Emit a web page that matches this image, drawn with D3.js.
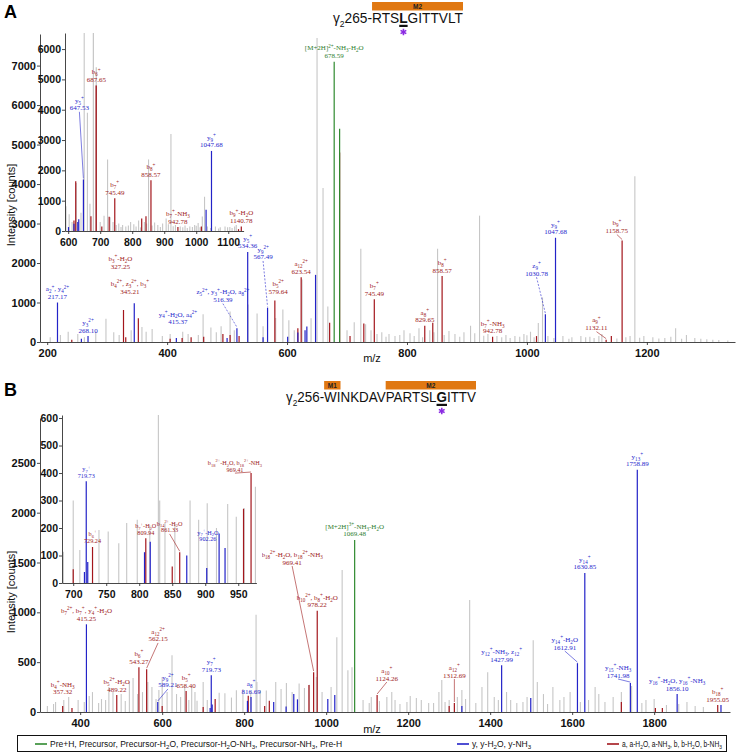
<!DOCTYPE html>
<html><head><meta charset="utf-8">
<script src="https://cdn.jsdelivr.net/npm/d3@7"></script>
<style>body{margin:0;background:#fff}</style>
</head><body><svg id="c" width="736" height="753"></svg>
<script>
// ================= DATA =================
// Panel A spectrum [m/z, intensity]
const grayA = [[205,120],[222,180],[235,260],[251,200],[262,120],[281,260],[298,590],[311,250],[320,180],[340,300],[358,380],[365,260],[375,330],[392,150],[405,200],[426,260],[435,200],[452,180],[460,700],[473,370],[482,250],[490,400],[505,770],[512,300],[535,950],[550,720],[560,400],[581,610],[593,820],[603,550],[612,300],[625,1580],[640,600],[650,7700],[660,3900],[668,900],[700,300],[712,500],[723,2360],[731,450],[740,300],[750,200],[758,250],[765,130],[770,200],[780,150],[788,180],[795,300],[805,220],[812,150],[820,350],[826,120],[838,300],[845,250],[851,2360],[862,180],[870,280],[880,200],[888,130],[895,250],[906,410],[913,220],[921,3200],[928,160],[935,200],[950,150],[958,120],[965,180],[972,100],[980,150],[988,130],[995,200],[1000,170],[1006,260],[1012,120],[1019,480],[1026,1130],[1035,150],[1045,100],[1060,150],[1070,80],[1075,120],[1090,150],[1098,120],[1105,130],[1112,100],[1120,150],[1125,200],[1150,90],[1165,120],[1172,150],[1180,4200],[1188,110],[1195,150],[1210,120],[1220,90],[1230,100],[1240,130],[1248,350],[1258,80],[1266,180],[1280,100],[1290,80],[1300,70],[1310,60],[1320,50],[1335,40]];
const redA = [[241,60],[327.25,810],[331,120],[352,600],[405,80],[425,100],[440,120],[461,130],[493,200],[505,180],[520,150],[579.64,1050],[618,350],[623.54,1640],[671,490],[687.65,4800],[705,150],[728,470],[745.49,1080],[829.65,410],[843,490],[858.57,1670],[942.78,130],[1016,150],[1132.11,60],[1140.78,150],[1158.75,2570]];
const blueA = [[217.17,1000],[257,80],[268.10,150],[345.21,980],[415.37,100],[500,100],[516.39,350],[534.36,2280],[560,120],[567.49,870],[601,130],[618,240],[630,300],[633,390],[647.53,1700],[1030.78,700],[1047.68,2640]];
const greenA = [[678.59,7100],[687.65,5400]];

const labelsA = [
 {kind:'y', t:['a_{2}^{+}, y_{4}^{2+}','217.17'], mz:217.17, I:1000},
 {kind:'y', t:['y_{3}^{2+}','268.10'], mz:268.10, I:150},
 {kind:'b', t:['b_{3}^{+}-H_{2}O','327.25'], mz:327.25, I:810, lx:322, lI:1860},
 {kind:'b', t:['b_{4}^{2+}, z_{3}^{2+}, b_{3}^{+}','345.21'], mz:345.21, I:980, lx:338, lI:1220},
 {kind:'y', t:['y_{4}^{+}-H_{2}O, a_{4}^{2+}','415.37'], mz:415.37, I:100, lx:418, lI:450},
 {kind:'y', t:['z_{5}^{2+}, y_{3}^{+}-H_{2}O, a_{8}^{2+}','516.39'], mz:516.39, I:350, lx:493, lI:1010, leader:'dash'},
 {kind:'y', t:['y_{5}^{+}','534.36'], mz:534.36, I:2280},
 {kind:'y', t:['y_{9}^{2+}','567.49'], mz:567.49, I:870, lx:560, lI:2090, leader:'dash'},
 {kind:'b', t:['b_{5}^{2+}','579.64'], mz:579.64, I:1050, lx:585, lI:1220},
 {kind:'b', t:['a_{12}^{2+}','623.54'], mz:623.54, I:1640},
 {kind:'p', t:['[M+2H]^{2+}-NH_{3}-H_{2}O','678.59'], mz:678.59, I:7100},
 {kind:'b', t:['b_{7}^{+}','745.49'], mz:745.49, I:1080},
 {kind:'b', t:['a_{8}^{+}','829.65'], mz:829.65, I:410},
 {kind:'b', t:['b_{8}^{+}','858.57'], mz:858.57, I:1670},
 {kind:'b', t:['b_{7}^{+}-NH_{3}','942.78'], mz:942.78, I:130},
 {kind:'y', t:['z_{9}^{+}','1030.78'], mz:1030.78, I:700, lx:1016, lI:1680, leader:'dash'},
 {kind:'y', t:['y_{9}^{+}','1047.68'], mz:1047.68, I:2640},
 {kind:'b', t:['a_{9}^{+}','1132.11'], mz:1132.11, I:60, lx:1116, lI:300, leader:'solid'},
 {kind:'b', t:['b_{9}^{+}','1158.75'], mz:1158.75, I:2570, lx:1150, lI:2760, leader:'solid'}
];
const insetLabelsA = [
 {kind:'y', t:['y_{5}^{+}','647.53'], mz:647.53, I:1700, lx:635, lI:3980, leader:'solid'},
 {kind:'b', t:['b_{6}^{+}','687.65'], mz:687.65, I:4800},
 {kind:'b', t:['b_{7}^{+}','745.49'], mz:745.49, I:1080},
 {kind:'b', t:['b_{8}^{+}','858.57'], mz:858.57, I:1670},
 {kind:'b', t:['b_{7}^{+}-NH_{3}','942.78'], mz:942.78, I:130},
 {kind:'y', t:['y_{9}^{+}','1047.68'], mz:1047.68, I:2640},
 {kind:'b', t:['b_{9}^{+}-H_{2}O','1140.78'], mz:1140.78, I:150}
];

// Panel B spectrum
const grayB = [[320,60],[335,80],[340,100],[360,120],[372,150],[395,120],[410,100],[422,160],[430,200],[445,90],[452,130],[462,120],[470,250],[480,200],[500,180],[510,110],[520,300],[529,340],[540,180],[552,200],[565,300],[575,250],[585,130],[592,220],[600,350],[612,200],[624,570],[635,180],[645,150],[655,260],[665,120],[672,250],[680,200],[685,114],[700,300],[710,120],[739,193],[753,187],[769,145],[781,218],[797,230],[816,210],[829,975],[831,300],[839,218],[854,215],[877,300],[890,230],[903,290],[917,200],[934,287],[947,241],[959,273],[976,350],[990,200],[1012,250],[1026,750],[1039,1425],[1053,420],[1063,450],[1090,120],[1105,90],[1110,150],[1130,110],[1148,150],[1160,200],[1168,120],[1180,80],[1197,100],[1205,160],[1220,140],[1232,120],[1250,90],[1262,90],[1275,200],[1282,320],[1290,100],[1300,120],[1320,150],[1331,220],[1340,130],[1350,1125],[1365,90],[1380,250],[1394,400],[1410,150],[1420,120],[1440,200],[1450,120],[1465,90],[1480,100],[1490,150],[1505,720],[1515,300],[1530,180],[1540,80],[1553,250],[1570,120],[1580,150],[1595,200],[1620,100],[1640,120],[1656,250],[1665,180],[1680,100],[1700,150],[1720,200],[1745,260],[1770,90],[1780,120],[1800,130],[1830,70],[1860,80],[1880,100],[1900,60],[1920,50]];
const redB = [[357.32,60],[380,40],[489.22,170],[543.27,450],[562.15,430],[600,60],[658.40,210],[700,50],[729.24,131],[809.94,163],[850,60],[861.33,112],[958,270],[969.41,400],[978.22,1015],[1124.26,170],[1300,60],[1312.69,90],[1720,100],[1803,40],[1820,40],[1955.05,70]];
const blueB = [[415.25,880],[589.21,100],[717,40],[719.73,370],[722,76],[808,112],[816.69,150],[872,100],[902.26,55],[921,180],[930,127],[1004,130],[1021,170],[1331,60],[1427.99,470],[1499,140],[1612.91,490],[1630.85,1395],[1741.98,290],[1758.89,2430],[1856.10,180],[1963,70]];
const greenB = [[1069.48,1727]];

const labelsB = [
 {kind:'b', t:['b_{4}^{+}-NH_{3}','357.32'], mz:357.32, I:60, lI:176},
 {kind:'b', t:['b_{7}^{2+}, b_{7}^{+}, y_{4}^{+}-H_{2}O','415.25'], mz:415.25, I:880},
 {kind:'b', t:['b_{5}^{2+}-H_{2}O','489.22'], mz:489.22, I:170},
 {kind:'b', t:['b_{6}^{+}','543.27'], mz:543.27, I:450},
 {kind:'b', t:['a_{12}^{2+}','562.15'], mz:562.15, I:430, lx:590, lI:708, leader:'solid'},
 {kind:'y', t:['y_{9}^{2+}','589.21'], mz:589.21, I:100, lx:614, lI:246, leader:'solid'},
 {kind:'b', t:['b_{5}^{+}','658.40'], mz:658.40, I:210},
 {kind:'y', t:['y_{7}^{+}','719.73'], mz:719.73, I:370},
 {kind:'y', t:['a_{8}^{+}','816.69'], mz:816.69, I:150},
 {kind:'b', t:['b_{18}^{2+}-H_{2}O, b_{18}^{2+}-NH_{3}','969.41'], mz:969.41, I:400, lx:917, lI:1480, leader:'solid'},
 {kind:'b', t:['b_{10}^{2+}, b_{8}^{+}-H_{2}O','978.22'], mz:978.22, I:1015},
 {kind:'p', t:['[M+2H]^{3+}-NH_{3}-H_{2}O','1069.48'], mz:1069.48, I:1727},
 {kind:'b', t:['a_{10}^{+}','1124.26'], mz:1124.26, I:170, lx:1148, lI:316, leader:'solid'},
 {kind:'b', t:['a_{12}^{+}','1312.69'], mz:1312.69, I:90, lI:346, leader:'solid'},
 {kind:'y', t:['y_{12}^{+}-NH_{3}, z_{12}^{+}','1427.99'], mz:1427.99, I:470},
 {kind:'y', t:['y_{14}^{+}-H_{2}O','1612.91'], mz:1612.91, I:490, lx:1582, lI:627, leader:'solid'},
 {kind:'y', t:['y_{14}^{+}','1630.85'], mz:1630.85, I:1395},
 {kind:'y', t:['y_{15}^{+}-NH_{3}','1741.98'], mz:1741.98, I:290, lx:1712, lI:346, leader:'solid'},
 {kind:'y', t:['y_{13}^{+}','1758.89'], mz:1758.89, I:2430},
 {kind:'y', t:['y_{16}^{+}-H_{2}O, y_{16}^{+}-NH_{3}','1856.10'], mz:1856.10, I:180},
 {kind:'b', t:['b_{18}^{+}','1955.05'], mz:1955.05, I:70}
];
const insetLabelsB = [
 {kind:'y', t:['y_{7}^{+}','719.73'], mz:719.73, I:370},
 {kind:'b', t:['b_{6}^{+}','729.24'], mz:729.24, I:131, lI:147},
 {kind:'b', t:['b_{7}^{+}-H_{2}O','809.94'], mz:809.94, I:163},
 {kind:'b', t:['b_{14}^{2+}-H_{2}O','861.33'], mz:861.33, I:112, lx:846, lI:184, leader:'solid'},
 {kind:'y', t:['y_{7}^{+}-H_{2}O','902.26'], mz:902.26, I:55, lx:904, lI:151},
 {kind:'b', t:['b_{18}^{2+}-H_{2}O, b_{18}^{2+}-NH_{3}','969.41'], mz:969.41, I:400, lx:945, lI:405, leader:'solid'}
];

// ticks
const xTicksA = [200,400,600,800,1000,1200];
const yTicksA = [0,1000,2000,3000,4000,5000,6000,7000];
const xTicksInsetA = [600,700,800,900,1000,1100];
const yTicksInsetA = [0,1000,2000,3000,4000,5000,6000];
const xTicksB = [400,600,800,1000,1200,1400,1600,1800];
const yTicksB = [0,500,1000,1500,2000,2500];
const xTicksInsetB = [700,750,800,850,900,950];
const yTicksInsetB = [0,100,200,300,400,500,600];

// sequences
const seqA = [{t:'γ'},{t:'2',sub:1},{t:' 265-'},{t:'RTS',mark:'M2'},{t:'L',mark:'M2',bold:1,site:1},{t:'GITTVLT',mark:'M2'}];
const seqB = [{t:'γ'},{t:'2',sub:1},{t:' 256-'},{t:'WI',mark:'M1'},{t:'NKDAV'},{t:'PARTSL',mark:'M2'},{t:'G',mark:'M2',bold:1,site:1},{t:'ITTV',mark:'M2'}];

const legendItems = [
 {kind:'p', t:'Pre+H, Precursor, Precursor-H_{2}O, Precursor-H_{2}O-NH_{3}, Precursor-NH_{3}, Pre-H'},
 {kind:'y', t:'y, y-H_{2}O, y-NH_{3}'},
 {kind:'b', t:'a, a-H_{2}O, a-NH_{3}, b, b-H_{2}O, b-NH_{3}'}
];

// ================= STYLE =================
const peakCol = {gray:'#c6c6c6', b:'#a3161c', y:'#2323c8', p:'#2f8a2f'};
const textCol = {b:'#9e1a1a', y:'#2626cc', p:'#2e7d2e'};
const SANS = 'Liberation Sans, Arial, sans-serif';
const SERIF = 'Liberation Serif, Times New Roman, serif';

const svg = d3.select('#c');

function rich(sel, str, fs){
  const parts = str.split(/(_\{[^}]*\}|\^\{[^}]*\})/g).filter(s=>s.length);
  let cur = 0;
  parts.forEach(p=>{
    let shift=0, size=fs, t=p;
    if(p.startsWith('_{')){shift=fs*0.28; size=fs*0.72; t=p.slice(2,-1);}
    else if(p.startsWith('^{')){shift=-fs*0.38; size=fs*0.72; t=p.slice(2,-1);}
    sel.append('tspan').attr('dy',(shift-cur).toFixed(2)).attr('font-size',size).text(t);
    cur = shift;
  });
}

function peaks(g, x, y, list, col, w){
  g.selectAll(null).data(list.filter(d=>d[0]>=x.domain()[0]&&d[0]<=x.domain()[1])).join('line')
   .attr('x1',d=>x(d[0])).attr('x2',d=>x(d[0]))
   .attr('y1',y(0)).attr('y2',d=>y(d[1]))
   .attr('stroke',col).attr('stroke-width',w);
}

function labels(g, x, y, list, fs){
  const lh = fs*1.1;
  list.forEach(a=>{
    const col = textCol[a.kind];
    const lx = x(a.lx!=null?a.lx:a.mz);
    const by = a.lI!=null ? y(a.lI) : y(a.I)-3.5;
    a.t.forEach((ln,i)=>{
      const t = g.append('text').attr('x',lx).attr('y',by-(a.t.length-1-i)*lh)
        .attr('text-anchor','middle').attr('fill',col).attr('font-family',SERIF).attr('font-size',fs);
      rich(t, ln, fs);
    });
    if(a.leader){
      g.append('line').attr('x1',lx).attr('y1',by+1.5).attr('x2',x(a.mz)).attr('y2',y(a.I)-1)
       .attr('stroke',col).attr('stroke-width',0.6)
       .attr('stroke-dasharray',a.leader==='dash'?'2,1.5':null);
    }
  });
}

function axes(g, x, y, xt, yt, fs){
  const ax = g.append('g').attr('transform',`translate(0,${y.range()[0]})`)
    .call(d3.axisBottom(x).tickValues(xt).tickSize(3).tickSizeOuter(0).tickFormat(d3.format('d')));
  const ay = g.append('g').attr('transform',`translate(${x.range()[0]},0)`)
    .call(d3.axisLeft(y).tickValues(yt).tickSize(3).tickSizeOuter(0).tickFormat(d3.format('d')));
  [ax,ay].forEach(a=>{
    a.selectAll('path,line').attr('stroke','#333').attr('stroke-width',0.9);
    a.selectAll('text').attr('font-family',SANS).attr('font-weight','bold').attr('font-size',fs).attr('fill','#111');
  });
  ax.selectAll('text').attr('dy','0.85em');
  ay.selectAll('text').attr('x',-4);
}

function panel(cfg){
  const g = svg.append('g');
  const x = d3.scaleLinear().domain(cfg.xd).range(cfg.xr);
  const y = d3.scaleLinear().domain(cfg.yd).range(cfg.yr).clamp(true);
  const pg = g.append('g');
  peaks(pg,x,y,cfg.gray,peakCol.gray,1.1);
  peaks(pg,x,y,cfg.red,peakCol.b,1.2);
  peaks(pg,x,y,cfg.blue,peakCol.y,1.2);
  peaks(pg,x,y,cfg.green,cfg.greenAsGray?peakCol.gray:peakCol.p,1.2);
  if(cfg.greenAsGray) peaks(pg,x,y,cfg.red.filter(d=>d[1]>3000),peakCol.b,1.2);
  axes(g,x,y,cfg.xt,cfg.yt,cfg.fs);
  labels(g,x,y,cfg.labels,cfg.lfs||7);
  return {x,y,g};
}

function title(seq, x0, x1, base, fs){
  const g = svg.append('g');
  const tmp = g.append('g');
  let cx=0; const spans=[];
  seq.forEach(s=>{
    const t = tmp.append('text').attr('x',cx).attr('y',0)
      .attr('font-family',SANS).attr('font-size',s.sub?fs*0.62:fs)
      .attr('font-weight',s.bold?'bold':'normal').text(s.t);
    const w = t.node().getComputedTextLength();
    spans.push({s,x:cx,w}); cx+=w;
  });
  tmp.remove();
  const sx = (x1-x0)/cx;
  const tg = g.append('g').attr('transform',`translate(${x0},${base}) scale(${sx},1)`);
  spans.forEach(p=>{
    tg.append('text').attr('x',p.x).attr('y',p.s.sub?fs*0.28:0)
      .attr('font-family',SANS).attr('font-size',p.s.sub?fs*0.62:fs)
      .attr('font-weight',p.s.bold?'bold':'normal').attr('fill','#111').text(p.s.t);
  });
  const marks = d3.group(spans.filter(p=>p.s.mark), p=>p.s.mark);
  marks.forEach((arr,k)=>{
    const a = x0 + arr[0].x*sx, b = x0 + (arr[arr.length-1].x+arr[arr.length-1].w)*sx;
    g.append('rect').attr('x',a).attr('y',base-21).attr('width',b-a).attr('height',8.5).attr('fill','#e07812');
    g.append('text').attr('x',(a+b)/2).attr('y',base-14.3).attr('text-anchor','middle')
      .attr('font-family',SANS).attr('font-weight','bold').attr('font-size',6.5).attr('fill','#222').text(k);
  });
  const site = spans.find(p=>p.s.site);
  const sa = x0+site.x*sx, sb = x0+(site.x+site.w)*sx;
  g.append('rect').attr('x',sa).attr('y',base+1.8).attr('width',sb-sa).attr('height',2.2).attr('fill','#111');
  g.append('path').attr('transform',`translate(${(sa+sb)/2},${base+9})`)
    .attr('d',d3.symbol(d3.symbolAsterisk,30)()).attr('stroke','#8b2be2').attr('stroke-width',1.6).attr('fill','none');
}

// ================= PANEL A =================
panel({xd:[188,1347], xr:[40,735], yd:[0,7800], yr:[342,34], xt:xTicksA, yt:yTicksA, fs:11,
  gray:grayA, red:redA, blue:blueA, green:greenA, labels:labelsA});
svg.append('rect').attr('x',41).attr('y',30).attr('width',205).attr('height',207).attr('fill','#fff');
panel({xd:[590,1148], xr:[65,243.6], yd:[0,6530], yr:[231,33], xt:xTicksInsetA, yt:yTicksInsetA, fs:10.5,
  gray:grayA, red:redA, blue:blueA, green:greenA, greenAsGray:true, labels:insetLabelsA});

// ================= PANEL B =================
panel({xd:[302,1985], xr:[40,730], yd:[0,2950], yr:[712,418], xt:xTicksB, yt:yTicksB, fs:11,
  gray:grayB, red:redB, blue:blueB, green:greenB, labels:labelsB});
svg.append('rect').attr('x',41).attr('y',412).attr('width',221).attr('height',186).attr('fill','#fff');
panel({xd:[683,977.5], xr:[62,256.4], yd:[0,611], yr:[583,415], xt:xTicksInsetB, yt:yTicksInsetB, fs:10.5, lfs:6.2,
  gray:grayB, red:redB, blue:blueB, green:greenB, labels:insetLabelsB});

// titles, panel letters, axis titles
title(seqA, 333, 463, 23, 15);
title(seqB, 286, 476, 402, 15);
svg.append('text').attr('x',4).attr('y',18).attr('font-family',SANS).attr('font-weight','bold').attr('font-size',18).text('A');
svg.append('text').attr('x',4).attr('y',396).attr('font-family',SANS).attr('font-weight','bold').attr('font-size',18).text('B');
[205,592].forEach(cy=>{
  svg.append('text').attr('transform',`translate(15,${cy}) rotate(-90)`).attr('text-anchor','middle')
   .attr('font-family',SANS).attr('font-size',11).attr('fill','#111').text('Intensity [counts]');
});
[362,733].forEach(yy=>{
  svg.append('text').attr('x',372).attr('y',yy).attr('text-anchor','middle')
   .attr('font-family',SANS).attr('font-size',11).attr('fill','#111').text('m/z');
});

// legend
const lg = svg.append('g');
lg.append('rect').attr('x',17.5).attr('y',735.5).attr('width',709).attr('height',16).attr('fill','none').attr('stroke','#111').attr('stroke-width',1);
const lx0 = [35,457,607];
const lmax = [330,90,100];
legendItems.forEach((it,i)=>{
  lg.append('line').attr('x1',lx0[i]).attr('x2',lx0[i]+12).attr('y1',744).attr('y2',744).attr('stroke',peakCol[it.kind]).attr('stroke-width',1.6);
  const tx = lx0[i]+15;
  const t = lg.append('text').attr('x',tx).attr('y',747).attr('font-family',SANS).attr('font-size',8.5).attr('fill','#111');
  rich(t, it.t, 8.5);
  const w = t.node().getComputedTextLength();
  if(w>lmax[i]){ const s=lmax[i]/w; t.attr('transform',`translate(${tx},0) scale(${s},1) translate(${-tx},0)`); }
});
</script></body></html>
